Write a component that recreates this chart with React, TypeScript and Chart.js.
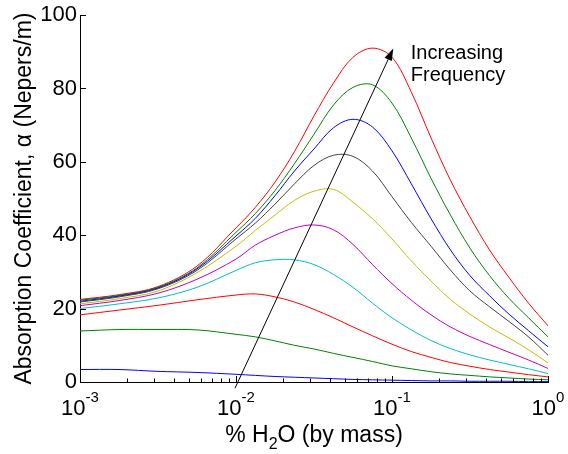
import React, { useEffect, useRef } from 'react';
import { Chart, registerables } from 'chart.js';

Chart.register(...registerables);

// % H2O (by mass) sample positions
const waterPct = [0.001, 0.00178, 0.00316, 0.00562, 0.01, 0.0133, 0.0178, 0.0237, 0.0316, 0.0422, 0.0562, 0.075, 0.1, 0.133, 0.178, 0.237, 0.316, 0.422, 0.562, 0.75, 1.0];

// absorption coefficient curves (Nepers/m), lowest to highest frequency
const freq1 = [3.4, 3.4, 2.9, 2.6, 2.1, 1.8, 1.5, 1.3, 1.1, 0.9, 0.7, 0.6, 0.5, 0.4, 0.3, 0.3, 0.2, 0.2, 0.2, 0.1, 0.1];
const freq2 = [13.9, 14.3, 14.3, 14.2, 13.0, 12.3, 11.2, 10.0, 9.0, 7.8, 6.7, 5.6, 4.4, 3.6, 2.8, 2.2, 1.8, 1.4, 1.1, 0.8, 0.6];
const freq3 = [18.3, 19.6, 20.9, 22.4, 23.7, 24.0, 23.2, 21.8, 19.8, 17.5, 15.0, 12.6, 10.3, 8.3, 6.7, 5.3, 4.3, 3.4, 2.7, 2.0, 1.4];
const freq4 = [20.0, 21.3, 22.9, 25.8, 30.4, 32.5, 33.3, 33.3, 32.0, 29.3, 25.8, 21.5, 17.5, 14.2, 11.3, 9.1, 7.4, 6.0, 4.8, 3.6, 2.3];
const freq5 = [20.8, 22.2, 24.2, 28.0, 33.5, 37.3, 40.0, 42.0, 42.8, 41.5, 37.5, 32.0, 26.8, 22.3, 18.3, 15.0, 12.4, 10.2, 8.1, 6.0, 3.7];
const freq6 = [21.3, 22.7, 24.8, 29.8, 37.0, 41.3, 45.5, 49.5, 52.0, 52.5, 49.0, 44.5, 39.0, 33.0, 27.5, 22.5, 18.5, 15.0, 12.0, 8.8, 5.2];
const freq7 = [21.8, 23.2, 25.4, 30.4, 39.0, 43.3, 48.5, 54.0, 59.0, 61.8, 61.5, 57.5, 50.5, 43.5, 37.0, 30.5, 24.8, 20.5, 16.5, 12.3, 7.3];
const freq8 = [22.0, 23.4, 25.6, 30.8, 39.8, 44.6, 50.8, 57.5, 63.5, 69.3, 71.6, 69.5, 63.0, 54.0, 44.5, 36.0, 29.0, 23.5, 18.5, 14.0, 9.6];
const freq9 = [22.3, 23.6, 25.8, 31.1, 40.8, 45.9, 52.2, 59.5, 67.5, 75.5, 80.3, 81.0, 76.0, 66.5, 55.5, 45.5, 36.5, 29.0, 22.8, 17.5, 12.3];
const freq10 = [22.5, 23.8, 26.0, 31.6, 42.0, 47.6, 54.5, 62.8, 72.5, 81.5, 88.5, 91.0, 88.5, 79.0, 66.5, 55.0, 45.0, 36.0, 28.5, 21.5, 15.3];

const allSeries = [freq1, freq2, freq3, freq4, freq5, freq6, freq7, freq8, freq9, freq10];

// axis ticks
const yTickValues = [0, 20, 40, 60, 80, 100];
const xDecades = [0.001, 0.01, 0.1, 1];
const xDecadeExponents = ['-3', '-2', '-1', '0'];

// annotation (data coordinates)
const arrowFrom = [0.00985, -1.7];
const arrowTo = [0.1019, 90.9];
const labelAt = [0.132, 88.1];
const labelLines = ['Increasing', 'Frequency'];

const seriesColors = ['#0000ff', '#008000', '#ff0000', '#00bfbf', '#bf00bf', '#bfbf00', '#404040', '#0000ff', '#008000', '#ff0000'];
const FONT = '"Liberation Sans", Arial, Helvetica, sans-serif';

const decorPlugin = {
  id: 'decor',
  afterDraw(chart: any) {
    const { ctx, chartArea: a, scales } = chart;
    const x = scales.x;
    const y = scales.y;
    ctx.save();
    ctx.strokeStyle = '#000';
    ctx.lineWidth = 1;
    // inward tick marks
    ctx.beginPath();
    for (let i = 0; i < xDecades.length; i++) {
      const base = xDecades[i];
      const px = Math.round(x.getPixelForValue(base)) + 0.5;
      ctx.moveTo(px, a.bottom);
      ctx.lineTo(px, a.bottom - 6);
      if (i < xDecades.length - 1) {
        for (let m = 2; m <= 9; m++) {
          const p = Math.round(x.getPixelForValue(m * base)) + 0.5;
          ctx.moveTo(p, a.bottom);
          ctx.lineTo(p, a.bottom - 3.5);
        }
      }
    }
    for (const v of yTickValues) {
      const py = Math.round(y.getPixelForValue(v)) + 0.5;
      ctx.moveTo(a.left, py);
      ctx.lineTo(a.left + 6, py);
    }
    ctx.stroke();

    // x tick labels with superscripts
    ctx.fillStyle = '#000';
    ctx.textBaseline = 'alphabetic';
    ctx.textAlign = 'left';
    for (let i = 0; i < xDecades.length; i++) {
      const px = x.getPixelForValue(xDecades[i]);
      ctx.font = `22px ${FONT}`;
      const w1 = ctx.measureText('10').width;
      ctx.font = `15px ${FONT}`;
      const w2 = ctx.measureText(xDecadeExponents[i]).width;
      const start = px - (w1 + w2) / 2;
      ctx.font = `22px ${FONT}`;
      ctx.fillText('10', start, a.bottom + 33);
      ctx.font = `15px ${FONT}`;
      ctx.fillText(xDecadeExponents[i], start + w1, a.bottom + 20);
    }

    // x axis title with subscript
    const parts: [string, number, number][] = [['% H', 23, 0], ['2', 16, 7], ['O (by mass)', 23, 0]];
    let total = 0;
    for (const [t, s] of parts) {
      ctx.font = `${s}px ${FONT}`;
      total += ctx.measureText(t).width;
    }
    let cx = (a.left + a.right) / 2 - total / 2;
    for (const [t, s, dy] of parts) {
      ctx.font = `${s}px ${FONT}`;
      ctx.fillText(t, cx, a.bottom + 60 + dy);
      cx += ctx.measureText(t).width;
    }

    // arrow
    const x1 = x.getPixelForValue(arrowFrom[0]);
    const y1 = y.getPixelForValue(arrowFrom[1]);
    const x2 = x.getPixelForValue(arrowTo[0]);
    const y2 = y.getPixelForValue(arrowTo[1]);
    const ang = Math.atan2(y2 - y1, x2 - x1);
    const headLen = 12;
    const headHalf = 4;
    const bx = x2 - headLen * Math.cos(ang);
    const by = y2 - headLen * Math.sin(ang);
    ctx.beginPath();
    ctx.moveTo(x1, y1);
    ctx.lineTo(bx, by);
    ctx.stroke();
    ctx.beginPath();
    ctx.moveTo(x2, y2);
    ctx.lineTo(bx + headHalf * Math.sin(ang), by - headHalf * Math.cos(ang));
    ctx.lineTo(bx - headHalf * Math.sin(ang), by + headHalf * Math.cos(ang));
    ctx.closePath();
    ctx.fill();

    // annotation text
    ctx.font = `20px ${FONT}`;
    const lx = x.getPixelForValue(labelAt[0]);
    const ly = y.getPixelForValue(labelAt[1]);
    labelLines.forEach((line, i) => ctx.fillText(line, lx, ly + i * 22.5));
    ctx.restore();
  },
};

export default function App() {
  const ref = useRef<HTMLCanvasElement | null>(null);
  useEffect(() => {
    if (!ref.current) return;
    const chart = new Chart(ref.current, {
      type: 'line',
      data: {
        datasets: allSeries.map((vals, i) => ({
          label: `f${i + 1}`,
          data: waterPct.map((w, j) => ({ x: w, y: vals[j] })),
          borderColor: seriesColors[i],
          backgroundColor: seriesColors[i],
          borderWidth: 1,
          pointRadius: 0,
          tension: 0.35,
          fill: false,
        })),
      },
      options: {
        responsive: false,
        animation: false,
        devicePixelRatio: 1,
        layout: { padding: { top: 13, right: 20, bottom: 0, left: 0 } },
        plugins: { legend: { display: false }, tooltip: { enabled: false } },
        scales: {
          x: {
            type: 'logarithmic',
            min: 0.001,
            max: 1,
            ticks: { display: false },
            grid: { display: false, drawTicks: false },
            border: { display: true, color: '#000', width: 1 },
            afterFit: (s: any) => { s.height = 72; },
          },
          y: {
            min: 0,
            max: 100,
            ticks: { stepSize: 20, color: '#000', padding: 3, font: { size: 22, family: FONT, lineHeight: 1.1 } },
            grid: { display: false, drawTicks: false },
            border: { display: true, color: '#000', width: 1 },
            title: {
              display: true,
              text: 'Absorption Coefficient, α (Nepers/m)',
              color: '#000',
              font: { size: 23, family: FONT },
              padding: { top: 11, bottom: 0 },
            },
            afterFit: (s: any) => { s.width = 80; },
          },
        },
      },
      plugins: [decorPlugin],
    });
    return () => chart.destroy();
  }, []);
  return (
    <div style={{ position: 'absolute', left: 0, top: 0, width: 568, height: 454, background: '#fff' }}>
      <canvas ref={ref} width={568} height={454} />
    </div>
  );
}
